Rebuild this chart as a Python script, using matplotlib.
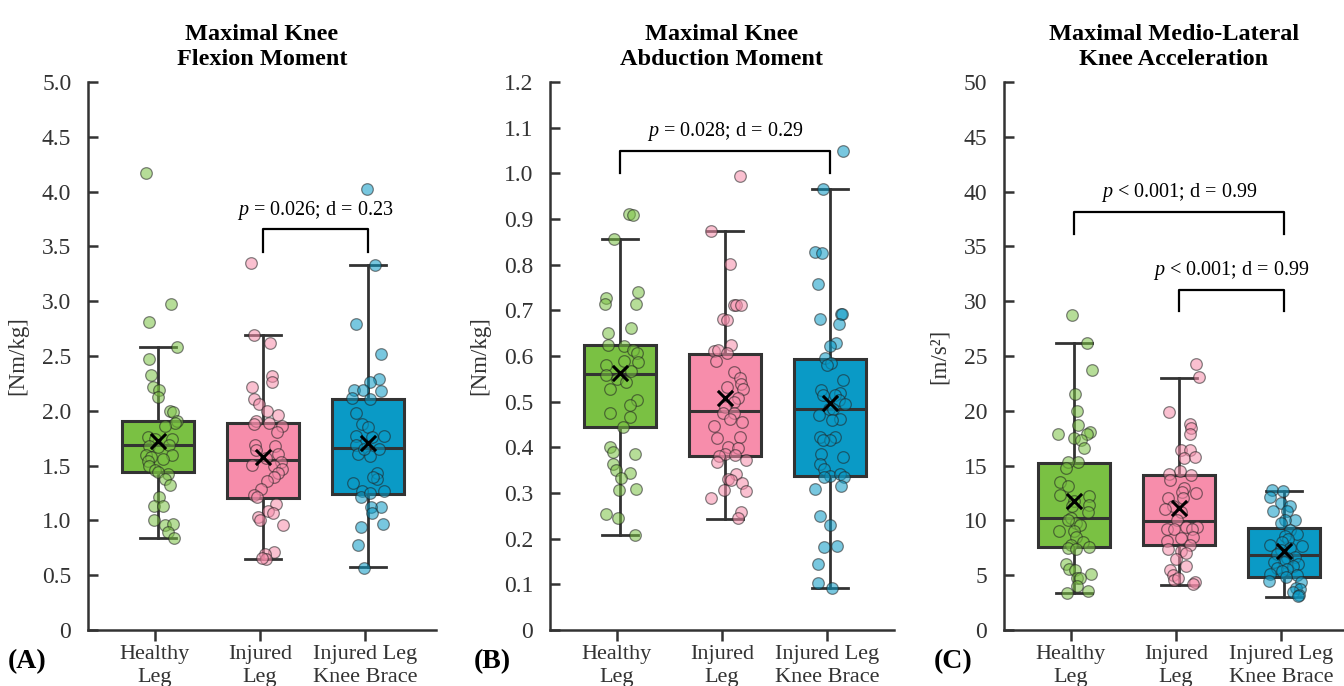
import numpy as np
import matplotlib
matplotlib.use('Agg')
import matplotlib.pyplot as plt

plt.rcParams['font.family'] = ['Liberation Serif', 'DejaVu Serif']
plt.rcParams['mathtext.fontset'] = 'custom'
plt.rcParams['mathtext.it'] = 'Liberation Serif:italic'
plt.rcParams['mathtext.rm'] = 'Liberation Serif'

groups = ['Healthy\nLeg', 'Injured\nLeg', 'Injured Leg\nKnee Brace']
box_colors = ['#7AC143', '#F78DAB', '#0A9AC6']

# ---- (A) knee flexion moment [Nm/kg]
flex_q1 = [1.445, 1.20, 1.245]
flex_med = [1.685, 1.55, 1.66]
flex_q3 = [1.91, 1.888, 2.11]
flex_lo = [0.836, 0.648, 0.576]
flex_hi = [2.58, 2.69, 3.33]
flex_mean = [1.72, 1.58, 1.71]
flex_healthy = [4.17, 2.97, 2.81, 2.58, 2.47, 2.33, 2.22, 2.19, 2.13, 2.00, 1.99, 1.91, 1.89, 1.86,
                1.76, 1.74, 1.74, 1.68, 1.69, 1.67, 1.60, 1.60, 1.58, 1.54, 1.56, 1.50, 1.46, 1.42,
                1.44, 1.38, 1.32, 1.21, 1.13, 1.13, 1.00, 0.96, 0.97, 0.89, 0.84]
flex_healthy_jit = [-0.12, 0.12, -0.09, 0.18, -0.09, -0.07, -0.05, 0.01, 0.00, 0.11, 0.14, 0.18, 0.16, 0.07,
                    -0.10, -0.03, 0.13, -0.09, 0.10, 0.00, -0.12, 0.13, -0.07, -0.10, 0.05, -0.09, -0.03, 0.09,
                    0.00, 0.07, 0.11, 0.01, -0.04, 0.05, -0.04, 0.07, 0.14, 0.09, 0.15]
flex_injured = [3.35, 2.69, 2.62, 2.32, 2.26, 2.22, 2.11, 2.06, 2.00, 1.96, 1.91, 1.88, 1.89, 1.86,
                1.81, 1.69, 1.64, 1.68, 1.61, 1.57, 1.53, 1.51, 1.50, 1.47, 1.43, 1.40, 1.36, 1.29,
                1.23, 1.21, 1.15, 1.09, 1.07, 1.03, 1.00, 0.96, 0.71, 0.69, 0.65, 0.66]
flex_injured_jit = [-0.12, -0.09, 0.07, 0.08, 0.08, -0.11, -0.09, -0.04, 0.04, 0.14, -0.07, -0.09, 0.06, 0.18,
                    0.13, -0.08, -0.07, 0.11, 0.14, 0.03, 0.17, -0.11, 0.10, 0.18, 0.14, 0.10, 0.04, -0.02,
                    -0.09, -0.06, 0.12, 0.05, 0.09, -0.05, -0.03, 0.19, 0.10, 0.02, 0.03, -0.01]
flex_brace = [4.02, 3.33, 2.79, 2.52, 2.29, 2.26, 2.19, 2.19, 2.18, 2.12, 2.11, 1.98, 1.88, 1.85,
              1.77, 1.77, 1.76, 1.69, 1.65, 1.61, 1.59, 1.65, 1.43, 1.38, 1.40, 1.34, 1.27, 1.27,
              1.21, 1.25, 1.12, 1.12, 1.07, 0.97, 0.94, 0.78, 0.57]
flex_brace_jit = [-0.01, 0.07, -0.12, 0.12, 0.10, 0.02, -0.13, -0.05, 0.12, -0.15, 0.02, -0.12, -0.06, 0.00,
                  -0.12, 0.15, 0.04, -0.12, 0.10, -0.10, 0.02, -0.04, 0.08, 0.08, 0.05, -0.14, -0.06, 0.15,
                  -0.07, 0.02, 0.12, 0.03, 0.04, 0.14, -0.07, -0.10, -0.04]

# ---- (B) knee abduction moment [Nm/kg]
abd_q1 = [0.444, 0.382, 0.338]
abd_med = [0.560, 0.480, 0.483]
abd_q3 = [0.624, 0.605, 0.593]
abd_lo = [0.209, 0.244, 0.093]
abd_hi = [0.856, 0.874, 0.965]
abd_mean = [0.562, 0.509, 0.497]
abd_healthy = [0.912, 0.909, 0.856, 0.741, 0.727, 0.713, 0.713, 0.662, 0.650, 0.624, 0.621, 0.614, 0.607,
               0.590, 0.586, 0.581, 0.568, 0.559, 0.549, 0.542, 0.528, 0.504, 0.492, 0.475, 0.466, 0.444,
               0.401, 0.389, 0.386, 0.363, 0.350, 0.344, 0.333, 0.307, 0.309, 0.254, 0.245, 0.209]
abd_healthy_jit = [0.08, 0.12, -0.06, 0.17, -0.13, -0.14, 0.15, 0.10, -0.12, -0.12, 0.04, 0.12, 0.16,
                   0.04, 0.17, -0.13, 0.10, -0.13, -0.03, 0.06, -0.10, 0.16, 0.09, -0.10, 0.09, 0.03,
                   -0.10, -0.07, 0.14, -0.07, -0.04, 0.09, 0.01, -0.01, 0.15, -0.13, -0.02, 0.14]
abd_injured = [0.994, 0.874, 0.802, 0.712, 0.712, 0.712, 0.682, 0.679, 0.624, 0.612, 0.614, 0.590, 0.607,
               0.564, 0.552, 0.538, 0.528, 0.533, 0.507, 0.499, 0.488, 0.475, 0.475, 0.463, 0.456, 0.446,
               0.420, 0.422, 0.401, 0.398, 0.386, 0.382, 0.384, 0.372, 0.367, 0.341, 0.331, 0.328, 0.322,
               0.305, 0.307, 0.290, 0.259, 0.245]
abd_injured_jit = [0.14, -0.13, 0.05, 0.08, 0.10, 0.15, -0.02, 0.02, 0.06, -0.11, -0.07, -0.09, 0.02,
                   0.08, 0.14, 0.15, 0.17, 0.02, 0.12, 0.08, 0.00, -0.02, 0.08, 0.05, 0.16, -0.11,
                   -0.08, 0.14, 0.03, 0.12, 0.00, -0.06, 0.09, 0.20, -0.08, 0.10, 0.03, 0.06, 0.16,
                   0.20, -0.01, -0.13, 0.15, 0.12]
abd_brace = [1.048, 0.965, 0.828, 0.826, 0.758, 0.693, 0.693, 0.682, 0.669, 0.629, 0.621, 0.595, 0.584,
             0.581, 0.547, 0.526, 0.520, 0.514, 0.514, 0.504, 0.485, 0.494, 0.485, 0.470, 0.463, 0.459,
             0.422, 0.422, 0.415, 0.415, 0.386, 0.379, 0.363, 0.353, 0.338, 0.334, 0.341, 0.334, 0.315,
             0.309, 0.250, 0.230, 0.182, 0.185, 0.144, 0.103, 0.093]
abd_brace_jit = [0.12, -0.07, -0.14, -0.08, -0.12, 0.10, 0.11, -0.10, 0.08, 0.06, 0.00, -0.05, 0.01,
                 -0.03, 0.12, -0.09, 0.09, -0.07, 0.05, 0.08, -0.01, 0.14, 0.03, -0.11, 0.09, 0.02,
                 -0.10, 0.05, 0.00, -0.07, -0.09, 0.12, -0.10, -0.06, 0.00, -0.06, 0.09, 0.13, 0.10,
                 -0.14, -0.10, 0.00, -0.06, 0.07, -0.12, -0.12, 0.02]

# ---- (C) medio-lateral knee acceleration [m/s2]
acc_q1 = [7.6, 7.72, 4.88]
acc_med = [10.2, 9.96, 6.88]
acc_q3 = [15.2, 14.1, 9.32]
acc_lo = [3.36, 4.12, 3.04]
acc_hi = [26.2, 23.0, 12.7]
acc_mean = [11.8, 11.1, 7.2]
acc_healthy = [28.7, 26.2, 23.7, 21.5, 20.0, 18.7, 17.9, 18.1, 17.9, 17.5, 17.3, 16.6, 15.3, 15.3, 14.8,
               13.5, 13.1, 12.3, 12.2, 11.8, 11.4, 11.3, 10.8, 10.2, 9.8, 10.0, 9.6, 9.0, 9.0, 8.5,
               8.0, 7.8, 7.5, 7.6, 7.4, 6.0, 5.6, 5.5, 5.1, 4.7, 4.7, 4.0, 3.6, 3.4]
acc_healthy_jit = [-0.02, 0.12, 0.17, 0.01, 0.03, 0.04, -0.15, 0.15, 0.12, 0.00, 0.07, 0.09, 0.04, -0.06, -0.08,
                   -0.13, -0.06, -0.13, 0.14, 0.00, 0.14, -0.02, 0.13, -0.03, 0.02, -0.06, 0.06, 0.00, -0.14, 0.02,
                   0.08, -0.03, -0.06, 0.14, 0.02, -0.08, -0.05, 0.01, 0.16, 0.03, 0.06, 0.03, 0.13, -0.07]
acc_injured = [24.3, 23.1, 19.9, 18.8, 18.4, 17.9, 16.4, 16.4, 15.7, 15.8, 14.5, 14.1, 14.2, 13.7, 13.0,
               12.6, 12.5, 12.0, 12.0, 11.3, 11.0, 10.8, 10.0, 9.4, 9.4, 9.2, 9.2, 9.2, 8.4, 8.5,
               8.1, 7.8, 7.4, 7.2, 7.0, 6.5, 5.8, 5.5, 5.0, 4.6, 4.7, 4.4, 4.2]
acc_injured_jit = [0.16, 0.19, -0.10, 0.10, 0.11, 0.10, 0.02, 0.10, 0.05, 0.15, 0.01, 0.11, -0.10, -0.09, 0.05,
                   0.03, 0.16, 0.04, -0.11, -0.06, -0.13, 0.02, -0.02, 0.07, 0.17, -0.12, -0.05, 0.12, 0.02, 0.13,
                   -0.12, 0.10, -0.11, 0.02, 0.07, -0.03, 0.07, -0.09, -0.06, -0.05, -0.01, 0.15, 0.13]
acc_brace = [12.8, 12.7, 12.1, 11.6, 11.3, 10.9, 10.9, 10.0, 10.0, 9.8, 9.1, 8.8, 8.6, 8.3, 8.0,
             7.7, 7.8, 7.5, 7.3, 6.9, 6.7, 6.6, 6.2, 6.2, 6.0, 5.8, 5.7, 5.6, 5.4, 5.1,
             5.0, 4.8, 4.5, 4.4, 3.8, 3.7, 3.5, 3.2, 3.1]
acc_brace_jit = [-0.12, -0.01, -0.13, -0.03, 0.06, 0.03, -0.11, 0.10, 0.01, -0.03, 0.06, 0.12, 0.01, 0.04, -0.02,
                 0.17, -0.13, 0.06, -0.03, -0.07, 0.10, 0.03, 0.00, -0.10, 0.13, 0.08, -0.07, 0.03, -0.02, -0.13,
                 0.12, 0.02, -0.14, 0.16, 0.11, 0.15, 0.08, 0.14, 0.13]

panels = [
    dict(title='Maximal Knee\nFlexion Moment', ylabel='[Nm/kg]', tag='(A)', tag_x=8,
         ylim=5.0, yticks=np.arange(0, 5.01, 0.5), fmt='{:.1f}',
         q1=flex_q1, med=flex_med, q3=flex_q3, lo=flex_lo, hi=flex_hi, mean=flex_mean,
         pts=[flex_healthy, flex_injured, flex_brace],
         jit=[flex_healthy_jit, flex_injured_jit, flex_brace_jit],
         brackets=[(1, 2, 3.66, 3.45, 3.83, '$p$ = 0.026; d = 0.23')],
         left=88, right=436),
    dict(title='Maximal Knee\nAbduction Moment', ylabel='[Nm/kg]', tag='(B)', tag_x=474,
         ylim=1.2, yticks=np.arange(0, 1.201, 0.1), fmt='{:.1f}',
         q1=abd_q1, med=abd_med, q3=abd_q3, lo=abd_lo, hi=abd_hi, mean=abd_mean,
         pts=[abd_healthy, abd_injured, abd_brace],
         jit=[abd_healthy_jit, abd_injured_jit, abd_brace_jit],
         brackets=[(0, 2, 1.048, 1.0, 1.092, '$p$ = 0.028; d = 0.29')],
         left=550, right=894),
    dict(title='Maximal Medio-Lateral\nKnee Acceleration', ylabel='[m/s²]', tag='(C)', tag_x=934,
         ylim=50, yticks=np.arange(0, 51, 5), fmt='{:.0f}',
         q1=acc_q1, med=acc_med, q3=acc_q3, lo=acc_lo, hi=acc_hi, mean=acc_mean,
         pts=[acc_healthy, acc_injured, acc_brace],
         jit=[acc_healthy_jit, acc_injured_jit, acc_brace_jit],
         brackets=[(0, 2, 38.1, 36.1, 39.9, '$p$ < 0.001; d = 0.99'),
                   (1, 2, 31.0, 29.1, 32.8, '$p$ < 0.001; d = 0.99')],
         left=1004, right=1344),
]

W, H = 1344, 686
fig = plt.figure(figsize=(W / 100, H / 100), dpi=100)
ink = '#333333'
tick_pos = np.arange(3)
box_pos = tick_pos + 0.03

for p in panels:
    ax = fig.add_axes([p['left'] / W, 1 - 630 / H, (p['right'] - p['left']) / W, (630 - 82) / H])
    stats = []
    for i in range(3):
        stats.append(dict(q1=p['q1'][i], med=p['med'][i], q3=p['q3'][i],
                          whislo=p['lo'][i], whishi=p['hi'][i], fliers=[]))
    bp = ax.bxp(stats, positions=box_pos, widths=0.68, patch_artist=True, showfliers=False,
                boxprops=dict(edgecolor=ink, linewidth=2.2),
                medianprops=dict(color=ink, linewidth=2.2),
                whiskerprops=dict(color=ink, linewidth=2),
                capprops=dict(color=ink, linewidth=2), capwidths=0.34)
    for patch, c in zip(bp['boxes'], box_colors):
        patch.set_facecolor(c)
        patch.set_zorder(2)

    for i in range(3):
        x = box_pos[i] + np.array(p['jit'][i])
        ax.scatter(x, p['pts'][i], s=70, color=box_colors[i], alpha=0.55,
                   edgecolors='#222222', linewidths=0.9, zorder=3)
    ax.scatter(box_pos, p['mean'], marker='x', s=120, color='black', linewidths=2.2, zorder=4)

    for a, b, ytop, yleg, ytxt, lab in p['brackets']:
        x1, x2 = box_pos[a], box_pos[b]
        ax.plot([x1, x1, x2, x2], [yleg, ytop, ytop, yleg], color='black', linewidth=1.6, zorder=5)
        ax.text((x1 + x2) / 2, ytxt, lab, ha='center', va='center', fontsize=14.5)

    ax.set_xlim(-0.638, (p['right'] - p['left']) / 105 - 0.638)
    ax.set_ylim(0, p['ylim'])
    ax.set_yticks(p['yticks'])
    ax.set_yticklabels(['0'] + [p['fmt'].format(v) for v in p['yticks'][1:]], fontsize=17, color=ink)
    ax.set_xticks(tick_pos)
    ax.set_xticklabels(groups, fontsize=16, color=ink, linespacing=1.3)
    ax.tick_params(axis='y', direction='in', length=7, width=1.8, color=ink, pad=12)
    ax.tick_params(axis='x', direction='out', length=8, width=1.8, color=ink, pad=3)
    for s in ['top', 'right']:
        ax.spines[s].set_visible(False)
    for s in ['left', 'bottom']:
        ax.spines[s].set_linewidth(1.8)
        ax.spines[s].set_color(ink)
    ax.set_ylabel(p['ylabel'], fontsize=16.5, color=ink, labelpad=10)
    ax.set_title(p['title'], fontsize=17.5, fontweight='bold', pad=12, linespacing=1.25)
    fig.text(p['tag_x'] / W, 1 - 662 / H, p['tag'], fontsize=20, fontweight='bold',
             ha='left', va='center')

fig.savefig('out.png', dpi=100)
